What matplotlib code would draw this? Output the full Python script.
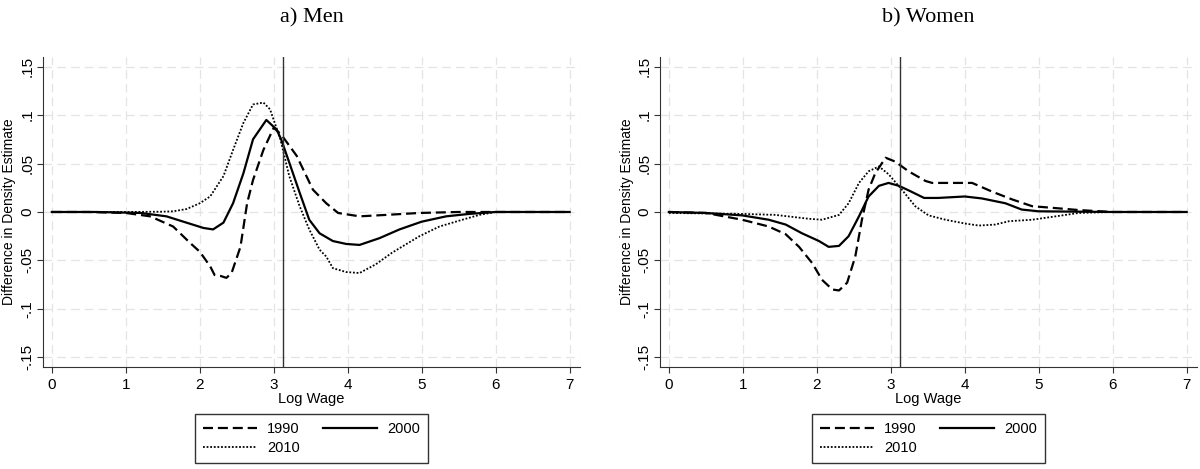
import matplotlib.pyplot as plt
import numpy as np

plt.rcParams['font.family'] = 'Liberation Sans'

# ---- data: Men ----
men_x_1990 = [0, 0.5, 1.0, 1.33, 1.64, 1.87, 2.0, 2.14, 2.2, 2.28, 2.36, 2.43, 2.55, 2.64, 2.72,
              2.86, 3.0, 3.1, 3.31, 3.53, 3.71, 3.87, 4.16, 4.52, 4.97, 5.5, 6.0, 7.0]
men_y_1990 = [0, 0, -0.001, -0.0045, -0.015, -0.032, -0.041, -0.056, -0.065, -0.066, -0.068, -0.063,
              -0.036, 0.009, 0.033, 0.064, 0.087, 0.080, 0.058, 0.023, 0.009, -0.001, -0.0045, -0.003,
              -0.001, 0, 0, 0]

men_x_2000 = [0, 0.6, 1.2, 1.55, 1.82, 2.05, 2.18, 2.32, 2.45, 2.59, 2.72, 2.9, 3.04, 3.1, 3.21,
              3.35, 3.48, 3.62, 3.8, 3.98, 4.16, 4.43, 4.7, 5.0, 5.33, 5.64, 6.0, 7.0]
men_y_2000 = [0, 0, -0.001, -0.0045, -0.011, -0.0165, -0.018, -0.011, 0.009, 0.040, 0.075, 0.095,
              0.085, 0.075, 0.051, 0.020, -0.008, -0.022, -0.030, -0.033, -0.034, -0.027, -0.018,
              -0.010, -0.0045, -0.002, 0, 0]

men_x_2010 = [0, 1.0, 1.5, 1.64, 1.82, 2.0, 2.14, 2.32, 2.45, 2.59, 2.72, 2.86, 2.95, 3.09, 3.21,
              3.35, 3.48, 3.62, 3.71, 3.8, 3.98, 4.16, 4.38, 4.6, 4.97, 5.24, 5.55, 5.78, 6.0, 7.0]
men_y_2010 = [0, 0, 0.0003, 0.0007, 0.003, 0.009, 0.016, 0.037, 0.064, 0.092, 0.111, 0.113, 0.106,
              0.075, 0.037, 0.006, -0.018, -0.039, -0.046, -0.058, -0.062, -0.063, -0.054, -0.042,
              -0.025, -0.015, -0.008, -0.003, 0, 0]

# ---- data: Women ----
wom_x_1990 = [0, 0.5, 0.99, 1.35, 1.58, 1.76, 1.94, 2.07, 2.21, 2.3, 2.41, 2.52, 2.61, 2.7, 2.79,
              2.93, 3.06, 3.24, 3.47, 3.56, 4.1, 4.37, 4.64, 4.91, 5.23, 5.54, 6.0, 7.0]
wom_y_1990 = [0, -0.001, -0.008, -0.015, -0.023, -0.036, -0.053, -0.070, -0.080, -0.081, -0.073,
              -0.046, -0.008, 0.023, 0.040, 0.056, 0.052, 0.042, 0.032, 0.030, 0.030, 0.021, 0.013,
              0.006, 0.004, 0.002, 0, 0]

wom_x_2000 = [0, 0.5, 0.99, 1.35, 1.58, 1.8, 2.03, 2.16, 2.3, 2.43, 2.57, 2.7, 2.84, 2.97, 3.11,
              3.25, 3.45, 3.64, 4.0, 4.23, 4.55, 4.77, 5.0, 6.0, 7.0]
wom_y_2000 = [0, -0.001, -0.0035, -0.008, -0.013, -0.022, -0.030, -0.036, -0.035, -0.025, -0.0045,
              0.016, 0.027, 0.030, 0.027, 0.022, 0.0145, 0.0145, 0.016, 0.014, 0.009, 0.0025, 0.0007,
              0, 0]

wom_x_2010 = [0, 1.0, 1.44, 1.89, 2.07, 2.3, 2.43, 2.57, 2.7, 2.84, 2.97, 3.15, 3.33, 3.51, 3.74,
              4.01, 4.19, 4.41, 4.6, 4.91, 5.23, 5.54, 6.0, 7.0]
wom_y_2010 = [-0.001, -0.002, -0.003, -0.007, -0.008, -0.003, 0.009, 0.030, 0.042, 0.047, 0.039,
              0.023, 0.006, -0.0035, -0.008, -0.012, -0.014, -0.013, -0.0095, -0.008, -0.0045,
              -0.001, 0, 0]

vline_x = 3.12
xticks = [0, 1, 2, 3, 4, 5, 6, 7]
yticks = [-0.15, -0.1, -0.05, 0, 0.05, 0.1, 0.15]
ytick_labels = ['-.15', '-.1', '-.05', '0', '.05', '.1', '.15']
titles = ['a) Men', 'b) Women']

panels = [
    (men_x_1990, men_y_1990, men_x_2000, men_y_2000, men_x_2010, men_y_2010),
    (wom_x_1990, wom_y_1990, wom_x_2000, wom_y_2000, wom_x_2010, wom_y_2010),
]

fig = plt.figure(figsize=(12, 4.69), dpi=100, facecolor='white')
lefts = [0.0358, 0.55]

for i, (x90, y90, x00, y00, x10, y10) in enumerate(panels):
    ax = fig.add_axes([lefts[i], 0.2175, 0.4475, 0.661])
    ax.set_xlim(-0.12, 7.14)
    ax.set_ylim(-0.16, 0.16)

    # grid
    for t in xticks:
        ax.axvline(t, color='#e4e4e4', lw=0.9, dashes=(7, 4), zorder=0)
    for t in yticks:
        ax.axhline(t, color='#e4e4e4', lw=0.9, dashes=(7, 4), zorder=0)

    l90, = ax.plot(x90, y90, color='black', lw=1.6, dashes=(4.5, 2.2), label='1990')
    l00, = ax.plot(x00, y00, color='black', lw=1.6, label='2000')
    l10, = ax.plot(x10, y10, color='black', lw=1.3, dashes=(1, 1), label='2010')
    ax.axvline(vline_x, color='#333333', lw=1.0)

    for s in ['top', 'right']:
        ax.spines[s].set_visible(False)
    ax.spines['left'].set_color('#333333')
    ax.spines['bottom'].set_color('#333333')

    ax.set_xticks(xticks)
    ax.set_xticklabels([str(t) for t in xticks], fontsize=11)
    ax.set_yticks(yticks)
    ax.set_yticklabels(ytick_labels, fontsize=11, rotation=90, va='center')
    ax.tick_params(length=4, width=0.8, color='#333333', pad=2)
    ax.tick_params(axis='x', pad=4)

    ax.set_xlabel('Log Wage', fontsize=10.5, labelpad=0)
    ax.set_ylabel('Difference in Density Estimate', fontsize=10, labelpad=3)
    ax.set_title(titles[i], fontsize=16, family='Liberation Serif', pad=25)

    # row-major order like the original: 1990, 2000 / 2010
    leg = ax.legend([l90, l10, l00], ['1990', '2010', '2000'],
                    loc='upper center', bbox_to_anchor=(0.5, -0.152), borderaxespad=0,
                    ncol=2, fontsize=10.5, frameon=True, fancybox=False, edgecolor='black',
                    handlelength=3.7, handletextpad=0.7, columnspacing=1.6, borderpad=0.55,
                    labelspacing=0.35)
    leg.get_frame().set_linewidth(1.0)

plt.savefig('out.png', dpi=100, facecolor='white')
